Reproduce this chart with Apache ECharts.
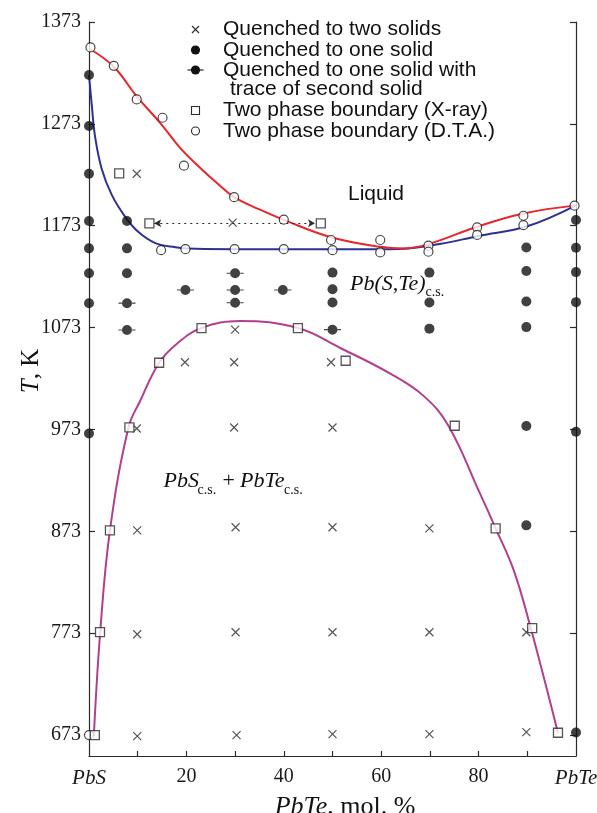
<!DOCTYPE html>
<html>
<head>
<meta charset="utf-8">
<script src="https://cdn.jsdelivr.net/npm/echarts@6/dist/echarts.min.js"></script>
<style>
  html, body { margin: 0; padding: 0; background: #fff; }
  #chart { width: 597px; height: 813px; }
</style>
</head>
<body>
<div id="chart"></div>
<script>
// PbS–PbTe pseudo-binary phase diagram

// axis ticks
const yTicks = [673, 773, 873, 973, 1073, 1173, 1273, 1373];
const xLabelValues = [0, 20, 40, 60, 80, 100];
const xTickValues = [10, 20, 30, 40, 50, 60, 70, 80, 90];
const endMembers = { 0: 'PbS', 100: 'PbTe' };

// boundary curves: [PbTe mol. %, T in K]
const liquidus = [
  [0, 1347], [5, 1329.5], [9.8, 1300], [14.6, 1274], [18.7, 1249.5], [22.8, 1230],
  [26.5, 1214], [29.8, 1201], [35, 1189], [39.9, 1179], [49.5, 1162], [59.8, 1152.3],
  [64.6, 1150.7], [69.7, 1155], [79.7, 1172], [89.2, 1185], [100, 1193]
];
const solidus = [
  [0, 1321], [0.6, 1290], [1.2, 1262], [2.6, 1229], [4.7, 1203], [7.4, 1182],
  [10.1, 1167], [13.6, 1156], [17.7, 1152], [22, 1150.3], [30, 1150], [45, 1150],
  [60, 1150], [66, 1151], [72, 1155], [80, 1163], [90, 1172.5], [100, 1193]
];
const solvus = [
  [1.0, 673], [2.3, 774], [4.3, 874], [8.1, 975], [10.5, 1001], [14.4, 1038.5],
  [18, 1057], [23.1, 1072.6], [31, 1079.5], [42.9, 1072.6], [51.6, 1053],
  [61.8, 1028], [68.7, 1006], [73.8, 976.7], [80.3, 910], [83.5, 876],
  [87.2, 835], [90.6, 780], [96.3, 675]
];

// experimental points
const twoSolids = [
  [9.8, 1224], [29.5, 1176], [30, 1071], [19.7, 1039], [29.8, 1039], [49.7, 1039],
  [9.8, 974], [29.8, 975], [50, 975], [9.9, 874], [30.1, 877], [50, 877], [69.9, 876],
  [9.9, 772], [30.1, 774], [50, 774], [69.9, 774], [89.8, 774],
  [9.9, 672], [30.3, 673], [50, 674], [69.9, 674], [89.8, 676]
];
const oneSolid = [
  [0, 1321], [0, 1271], [0, 1224], [0, 1177.6], [0, 1150.8], [0, 1126.3], [0, 1097], [0, 969],
  [7.8, 1177.6], [7.8, 1150.8], [7.8, 1126.3],
  [50, 1127], [50, 1110.6], [50, 1097.7],
  [69.9, 1127], [69.9, 1097.7], [69.9, 1072],
  [89.8, 1151.6], [89.8, 1128.5], [89.8, 1098.7], [89.8, 1073.5], [89.8, 976.5], [89.8, 878.9],
  [100, 1178.6], [100, 1151.4], [100, 1127.5], [100, 1098], [100, 970.8], [100, 675.6]
];
const oneSolidTrace = [
  [7.8, 1097], [7.8, 1070.6], [19.8, 1110], [30, 1126.3], [30, 1110], [30, 1097.4],
  [39.8, 1110], [50, 1071]
];
const xrayBoundary = [
  [1.2, 673], [2.26, 774], [4.3, 874], [8.3, 975], [14.4, 1038.5], [23.1, 1072.6],
  [42.9, 1072.6], [52.7, 1040.5], [75.1, 976.7], [83.5, 876], [91, 778], [96.3, 675.3],
  [6.2, 1224.4], [12.4, 1175.4], [47.6, 1175.4]
];
const dtaBoundary = [
  [0.3, 1348], [5.1, 1330], [9.8, 1297], [15.1, 1279], [19.5, 1232], [29.8, 1201],
  [40, 1179], [49.7, 1159], [59.8, 1159], [69.7, 1153.4], [79.7, 1171.4], [89.2, 1182.8],
  [99.7, 1192.7],
  [14.8, 1149], [19.8, 1150], [29.9, 1150], [40, 1150], [50, 1149], [59.8, 1146.8],
  [69.7, 1147.5], [79.7, 1164], [89.2, 1173.6], [0, 673]
];
// X-ray tie line between the two boundary squares at 1175 K
const tieLine = [[13.4, 1175.4], [46.4, 1175.4]];

const legendRows = [
  { kind: 'cross', text: 'Quenched to two solids' },
  { kind: 'dot', text: 'Quenched to one solid' },
  { kind: 'trace', text: 'Quenched to one solid with' },
  { kind: 'none', text: 'trace of second solid' },
  { kind: 'square', text: 'Two phase boundary (X-ray)' },
  { kind: 'circle', text: 'Two phase boundary (D.T.A.)' }
];

const INK = '#2b2b2b';
const SERIF = '"Liberation Serif", "Times New Roman", serif';
const SANS = '"Liberation Sans", Arial, Helvetica, sans-serif';

const crossSymbol = 'path://M0,0L8,8M8,0L0,8';
const traceSymbol = 'path://M0,4.45H3.4V5.55H0Z M13.6,4.45H17V5.55H13.6Z M8.5,0A5,5 0 1,1 8.49,0Z';

const chart = echarts.init(document.getElementById('chart'), null, { renderer: 'canvas' });

const yAxisBase = {
  type: 'value', min: 652.5, max: 1373,
  axisLine: { show: true, lineStyle: { color: INK, width: 1.2 } },
  splitLine: { show: false },
  axisTick: { show: true, inside: true, length: 6, customValues: yTicks, lineStyle: { color: INK, width: 1.2 } }
};

// legend block drawn as graphic elements
const legendGraphics = [];
const rowY = [29.5, 50, 70, 89, 110.5, 131];
const markX = 195.5;
legendRows.forEach((row, i) => {
  const y = rowY[i];
  if (row.kind === 'cross') {
    legendGraphics.push({ type: 'polyline', shape: { points: [[markX - 3.5, y - 3.5], [markX + 3.5, y + 3.5]] }, style: { stroke: INK, lineWidth: 1.1, fill: null } });
    legendGraphics.push({ type: 'polyline', shape: { points: [[markX + 3.5, y - 3.5], [markX - 3.5, y + 3.5]] }, style: { stroke: INK, lineWidth: 1.1, fill: null } });
  } else if (row.kind === 'dot') {
    legendGraphics.push({ type: 'circle', shape: { cx: markX, cy: y, r: 4.6 }, style: { fill: '#111' } });
  } else if (row.kind === 'trace') {
    legendGraphics.push({ type: 'line', shape: { x1: markX - 8, y1: y, x2: markX + 8, y2: y }, style: { stroke: '#111', lineWidth: 1.1 } });
    legendGraphics.push({ type: 'circle', shape: { cx: markX, cy: y, r: 4.6 }, style: { fill: '#111' } });
  } else if (row.kind === 'square') {
    legendGraphics.push({ type: 'rect', shape: { x: markX - 4, y: y - 4, width: 8, height: 8 }, style: { fill: '#fff', stroke: INK, lineWidth: 1.1 } });
  } else if (row.kind === 'circle') {
    legendGraphics.push({ type: 'circle', shape: { cx: markX, cy: y, r: 4 }, style: { fill: '#fff', stroke: INK, lineWidth: 1.1 } });
  }
  legendGraphics.push({
    type: 'text', x: row.kind === 'none' ? 230 : 223, y: y,
    style: { text: row.text, font: '21px ' + SANS, fill: '#111', verticalAlign: 'middle', align: 'left' }
  });
});

// region annotations
const regionLabels = [
  { text: 'Liquid', x: 348, y: 194.5, font: '21px ' + SANS },
  { text: 'Pb(S,Te)', x: 350, y: 284.5, font: 'italic 22px ' + SERIF },
  { text: 'c.s.', x: 425.5, y: 292, font: '14px ' + SERIF },
  { text: 'PbS', x: 163.5, y: 481, font: 'italic 22px ' + SERIF },
  { text: 'c.s.', x: 197.5, y: 490.5, font: '14px ' + SERIF },
  { text: '+', x: 222.5, y: 481, font: '22px ' + SERIF },
  { text: 'PbTe', x: 240, y: 481, font: 'italic 22px ' + SERIF },
  { text: 'c.s.', x: 284, y: 490.5, font: '14px ' + SERIF }
].map(l => ({
  type: 'text', x: l.x, y: l.y,
  style: { text: l.text, font: l.font, fill: '#111', verticalAlign: 'middle', align: 'left' }
}));

const curveStyle = (color) => ({
  type: 'line', smooth: 0.4, showSymbol: false, symbol: 'none',
  clip: false, silent: true, z: 2,
  lineStyle: { color: color, width: 2 }
});

chart.setOption({
  animation: false,
  backgroundColor: '#fff',
  grid: { left: 89, right: 21, top: 22, bottom: 57, containLabel: false, outerBoundsMode: 'none' },
  xAxis: {
    type: 'value', min: 0, max: 100,
    name: '{i|PbTe}{n|, mol. %}', nameLocation: 'middle', nameGap: 33,
    nameTextStyle: {
      padding: [0, 0, 0, 25],
      rich: {
        i: { fontFamily: SERIF, fontStyle: 'italic', fontSize: 26, color: '#111' },
        n: { fontFamily: SERIF, fontSize: 26, color: '#111' }
      }
    },
    axisLine: { show: true, onZero: false, lineStyle: { color: INK, width: 1.2 } },
    splitLine: { show: false },
    axisTick: { show: true, inside: true, length: 5, customValues: xTickValues, lineStyle: { color: INK, width: 1.2 } },
    axisLabel: {
      show: true, margin: 11, customValues: xLabelValues, color: '#1a1a1a',
      fontFamily: SERIF, fontSize: 20,
      formatter: v => endMembers[v] ? '{i|' + endMembers[v] + '}' : String(v),
      rich: { i: { fontFamily: SERIF, fontStyle: 'italic', fontSize: 21, color: '#1a1a1a', padding: [1, 0, 0, 0] } }
    }
  },
  yAxis: [
    Object.assign({}, yAxisBase, {
      position: 'left',
      name: '{i|T}{n|, K}', nameLocation: 'middle', nameGap: 45, nameRotate: 90,
      nameMoveOverlap: false,
      nameTextStyle: {
        padding: [0, 0, 0, 36],
        rich: {
          i: { fontFamily: SERIF, fontStyle: 'italic', fontSize: 25, color: '#111' },
          n: { fontFamily: SERIF, fontSize: 25, color: '#111' }
        }
      },
      axisLabel: {
        show: true, margin: 8, customValues: yTicks, color: '#1a1a1a',
        fontFamily: SERIF, fontSize: 20, formatter: v => String(v)
      }
    }),
    Object.assign({}, yAxisBase, { position: 'right', axisLabel: { show: false } })
  ],
  graphic: legendGraphics.concat(regionLabels),
  series: [
    Object.assign(curveStyle('#b23f8c'), { name: 'solvus', data: solvus }),
    Object.assign(curveStyle('#2e3192'), { name: 'solidus', data: solidus }),
    Object.assign(curveStyle('#e8262b'), { name: 'liquidus', data: liquidus }),
    {
      name: 'tie line', type: 'line', data: [], silent: true,
      markLine: {
        silent: true, animation: false,
        symbol: ['arrow', 'arrow'], symbolSize: [6, 7],
        label: { show: false },
        lineStyle: { color: INK, width: 1.2, type: [2, 4] },
        emphasis: { disabled: true },
        data: [[{ coord: tieLine[0] }, { coord: tieLine[1] }]]
      }
    },
    {
      name: 'Quenched to two solids', type: 'scatter', data: twoSolids, clip: false, silent: true, z: 3,
      symbol: crossSymbol, symbolSize: 8,
      itemStyle: { color: INK, borderColor: INK, borderWidth: 1.2 }
    },
    {
      name: 'Quenched to one solid', type: 'scatter', data: oneSolid, clip: false, silent: true, z: 3,
      symbol: 'circle', symbolSize: 10, itemStyle: { color: '#111' }
    },
    {
      name: 'Quenched to one solid with trace of second solid', type: 'scatter', data: oneSolidTrace,
      clip: false, silent: true, z: 3,
      symbol: traceSymbol, symbolSize: [17, 10], itemStyle: { color: '#111' }
    },
    {
      name: 'Two phase boundary (X-ray)', type: 'scatter', data: xrayBoundary, clip: false, silent: true, z: 4,
      symbol: 'rect', symbolSize: 9,
      itemStyle: { color: '#fff', borderColor: INK, borderWidth: 1.3 }
    },
    {
      name: 'Two phase boundary (D.T.A.)', type: 'scatter', data: dtaBoundary, clip: false, silent: true, z: 3,
      symbol: 'circle', symbolSize: 9,
      itemStyle: { color: '#fff', borderColor: '#1a1a1a', borderWidth: 1.2 }
    }
  ]
});
</script>
</body>
</html>
